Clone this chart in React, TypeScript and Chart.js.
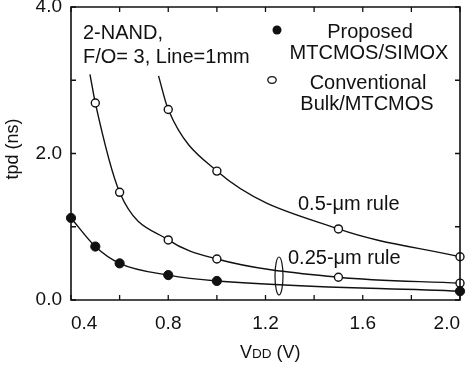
import React, { useEffect, useRef } from "react";
import { Chart, registerables } from "chart.js";

Chart.register(...registerables);

// ---- data ----
const vddProposed = [0.4, 0.5, 0.6, 0.8, 1.0, 2.0];
const tpdProposed = [1.12, 0.73, 0.5, 0.34, 0.26, 0.12];

const vddConv025 = [0.5, 0.6, 0.8, 1.0, 1.5, 2.0];
const tpdConv025 = [2.69, 1.47, 0.82, 0.56, 0.31, 0.23];

const vddConv05 = [0.8, 1.0, 1.5, 2.0];
const tpdConv05 = [2.6, 1.76, 0.97, 0.59];

// where each fitted curve enters the plot
const curveStart025 = [0.478, 3.08];
const curveStart05 = [0.76, 3.06];

const xTickLabels = [0.4, 0.8, 1.2, 1.6, 2.0];
const yTickLabels = [0.0, 2.0, 4.0];

const FONT = '"Liberation Sans", Arial, Helvetica, sans-serif';
const INK = "#111";

const pts = (xs: number[], ys: number[]) => xs.map((v, i) => ({ x: v, y: ys[i] }));

const isIn = (v: number, list: number[]) => list.some((t) => Math.abs(t - v) < 1e-6);

const decor = {
  id: "decor",
  afterDraw(chart: any) {
    const ctx: CanvasRenderingContext2D = chart.ctx;
    const a = chart.chartArea;
    const xs = chart.scales.x;
    const ys = chart.scales.y;
    ctx.save();
    ctx.fillStyle = INK;
    ctx.strokeStyle = INK;

    // annotation texts
    ctx.font = `20px ${FONT}`;
    ctx.textBaseline = "alphabetic";
    ctx.textAlign = "left";
    ctx.fillText("2-NAND,", 83, 39);
    ctx.fillText("F/O= 3, Line=1mm", 83, 63);
    ctx.fillText("0.5-\u03bcm rule", 298, 210);
    ctx.fillText("0.25-\u03bcm rule", 288, 264);

    // legend
    ctx.textAlign = "center";
    ctx.fillText("Proposed", 370, 38);
    ctx.fillText("MTCMOS/SIMOX", 369, 59);
    ctx.fillText("Conventional", 368, 89);
    ctx.fillText("Bulk/MTCMOS", 367, 110);
    ctx.lineWidth = 1.3;
    ctx.beginPath();
    ctx.arc(277, 30, 4.5, 0, Math.PI * 2);
    ctx.fill();
    ctx.beginPath();
    ctx.fillStyle = "#fff";
    ctx.ellipse(272, 80, 4.2, 3.4, 0, 0, Math.PI * 2);
    ctx.fill();
    ctx.stroke();
    ctx.fillStyle = INK;

    // bracket ellipse for the 0.25-um pair
    ctx.lineWidth = 1.2;
    ctx.beginPath();
    ctx.ellipse(279, 276, 4, 19, 0, 0, Math.PI * 2);
    ctx.stroke();

    // y title
    ctx.save();
    ctx.translate(13, 149);
    ctx.rotate(-Math.PI / 2);
    ctx.textAlign = "center";
    ctx.textBaseline = "middle";
    ctx.font = `18px ${FONT}`;
    ctx.fillText("tpd (ns)", 0, 0);
    ctx.restore();

    // x title: V with small-cap DD
    ctx.textAlign = "left";
    ctx.textBaseline = "alphabetic";
    let cx = 240;
    const base = 358;
    ctx.font = `18px ${FONT}`;
    ctx.fillText("V", cx, base);
    cx += ctx.measureText("V").width;
    ctx.font = `13.5px ${FONT}`;
    ctx.fillText("DD", cx, base);
    cx += ctx.measureText("DD").width;
    ctx.font = `18px ${FONT}`;
    ctx.fillText(" (V)", cx, base);

    // frame
    const L = a.left, R = a.right, T = a.top, B = a.bottom;
    ctx.lineWidth = 1.6;
    ctx.strokeStyle = INK;
    ctx.beginPath();
    ctx.moveTo(L, T);
    ctx.lineTo(R, T);
    ctx.lineTo(R, B);
    ctx.lineTo(L, B);
    ctx.closePath();
    ctx.stroke();

    // inward ticks on all four sides
    const tl = 5;
    ctx.lineWidth = 1.3;
    ctx.beginPath();
    xs.ticks.forEach((t: any) => {
      const px = xs.getPixelForValue(t.value);
      ctx.moveTo(px, B);
      ctx.lineTo(px, B - tl);
      ctx.moveTo(px, T);
      ctx.lineTo(px, T + tl);
    });
    ys.ticks.forEach((t: any) => {
      const py = ys.getPixelForValue(t.value);
      ctx.moveTo(L, py);
      ctx.lineTo(L + tl, py);
      ctx.moveTo(R, py);
      ctx.lineTo(R - tl, py);
    });
    ctx.stroke();

    ctx.restore();
  },
};

export default function App() {
  const ref = useRef<HTMLCanvasElement | null>(null);

  useEffect(() => {
    document.body.style.margin = "0";
    const canvas = ref.current;
    if (!canvas) return;

    const lineStyle = {
      showLine: true,
      pointRadius: 0,
      borderColor: INK,
      borderWidth: 1.4,
      cubicInterpolationMode: "monotone" as const,
      fill: false,
      clip: false as const,
    };

    const chart = new Chart(canvas, {
      type: "scatter",
      data: {
        datasets: [
          {
            label: "Proposed MTCMOS/SIMOX",
            data: pts(vddProposed, tpdProposed),
            pointRadius: 4.6,
            pointBackgroundColor: INK,
            pointBorderColor: INK,
            pointBorderWidth: 1,
            showLine: false,
            clip: false,
          },
          {
            label: "Conventional Bulk/MTCMOS 0.25um",
            data: pts(vddConv025, tpdConv025),
            pointRadius: 4,
            pointBackgroundColor: "#fff",
            pointBorderColor: INK,
            pointBorderWidth: 1.4,
            showLine: false,
            clip: false,
          },
          {
            label: "Conventional Bulk/MTCMOS 0.5um",
            data: pts(vddConv05, tpdConv05),
            pointRadius: 4,
            pointBackgroundColor: "#fff",
            pointBorderColor: INK,
            pointBorderWidth: 1.4,
            showLine: false,
            clip: false,
          },
          { label: "fit proposed", data: pts(vddProposed, tpdProposed), ...lineStyle },
          {
            label: "fit 0.25",
            data: [{ x: curveStart025[0], y: curveStart025[1] }, ...pts(vddConv025, tpdConv025)],
            ...lineStyle,
          },
          {
            label: "fit 0.5",
            data: [{ x: curveStart05[0], y: curveStart05[1] }, ...pts(vddConv05, tpdConv05)],
            ...lineStyle,
          },
        ],
      },
      options: {
        responsive: false,
        animation: false,
        devicePixelRatio: 1,
        layout: { padding: { left: 0, right: 14, top: 7, bottom: 0 } },
        plugins: { legend: { display: false }, tooltip: { enabled: false } },
        scales: {
          x: {
            type: "linear",
            min: 0.4,
            max: 2.0,
            grid: { display: false, drawTicks: false },
            border: { display: false },
            ticks: {
              stepSize: 0.2,
              align: "inner",
              padding: 12,
              color: INK,
              font: { family: FONT, size: 19 },
              callback: (v: any) => (isIn(Number(v), xTickLabels) ? Number(v).toFixed(1) : ""),
              maxRotation: 0,
              autoSkip: false,
            },
            afterFit: (s: any) => {
              s.height = 65;
              s.paddingLeft = 0;
              s.paddingRight = 0;
            },
          },
          y: {
            type: "linear",
            min: 0,
            max: 4,
            grid: { display: false, drawTicks: false },
            border: { display: false },
            ticks: {
              stepSize: 1,
              padding: 9,
              color: INK,
              font: { family: FONT, size: 19 },
              callback: (v: any) => (isIn(Number(v), yTickLabels) ? Number(v).toFixed(1) : ""),
              autoSkip: false,
            },
            afterFit: (s: any) => {
              s.width = 71;
              s.paddingTop = 0;
              s.paddingBottom = 0;
            },
          },
        },
      },
      plugins: [decor],
    });

    return () => chart.destroy();
  }, []);

  return (
    <div style={{ width: 474, height: 365, background: "#fff" }}>
      <canvas ref={ref} width={474} height={365} />
    </div>
  );
}
